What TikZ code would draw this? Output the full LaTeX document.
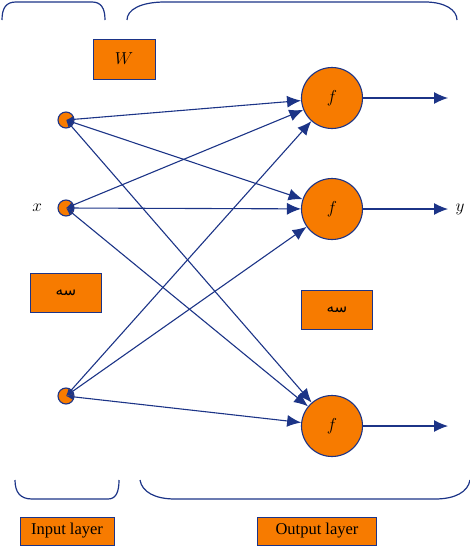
\documentclass[tikz,border=0pt]{standalone}
\usepackage{fontspec}
\setmainfont{Liberation Serif}
\newfontfamily\arabicfont[Script=Arabic]{DejaVu Sans}
\TeXXeTstate=1
\usepackage{tikz}
\usetikzlibrary{arrows.meta,positioning,calc}
\definecolor{netblue}{RGB}{28,52,135}
\definecolor{netorange}{RGB}{247,123,0}
\tikzset{
    link/.style={{Latex[length=7pt,width=6pt]}-{Latex[length=14pt,width=12pt]}, line width=1.1pt, netblue},
    outlink/.style={-{Latex[length=14pt,width=12pt]}, line width=1.1pt, netblue},
    innode/.style={draw=netblue, line width=1.1pt, fill=netorange, circle, minimum size=16pt, inner sep=0pt},
    outnode/.style={draw=netblue, line width=1.1pt, fill=netorange, circle, minimum size=61pt, inner sep=0pt, font=\fontsize{19}{19}\selectfont},
    tag/.style={draw=netblue, line width=1pt, fill=netorange, rectangle, inner sep=0pt},
    brace/.style={line width=1.2pt, netblue}
}

\begin{document}
\begin{tikzpicture}[x=1pt, y=-1pt]
    \useasboundingbox (0,0) rectangle (470,546);
    % layer braces
    \draw[brace] (2,20) .. controls (2,8) and (6,2) .. (16,2) -- (92,2) .. controls (101,2) and (105,8) .. (105,20);
    \draw[brace] (127,20) .. controls (127,10) and (140,2) .. (165,2) -- (425,2) .. controls (445,2) and (457,10) .. (457,20);
    \draw[brace] (15,480) .. controls (15,492) and (20,499) .. (32,499) -- (108,499) .. controls (116,499) and (119,492) .. (119,480);
    \draw[brace] (140,480) .. controls (142,492) and (155,499) .. (175,499) -- (435,499) .. controls (455,499) and (468,492) .. (470,480);

    % input neurons
    \node[innode] (in1) at (66,120) {};
    \node[innode] (in2) at (66,208) {};
    \node[innode] (in3) at (66,396) {};
    \node[left=12pt of in2, font=\fontsize{19}{19}\selectfont] (xlab) {$x$};

    % output neurons
    \node[outnode] (out1) at (332,98) {$f$};
    \node[outnode] (out2) at (332,209) {$f$};
    \node[outnode] (out3) at (332,426) {$f$};

    % weights and dots
    \node[tag, minimum width=62pt, minimum height=40pt, font=\fontsize{19}{19}\selectfont] (wbox) at (124,59) {$W$};
    \node[tag, minimum width=71pt, minimum height=39pt] (dotsin) at (66,293) {\arabicfont\fontsize{15}{15}\selectfont\beginR سه\endR};
    \node[tag, minimum width=71pt, minimum height=39pt] (dotsout) at (337,310) {\arabicfont\fontsize{15}{15}\selectfont\beginR سه\endR};

    % connections
    \foreach \i in {1,2,3}
        \foreach \o in {1,2,3}
            \draw[link] (in\i.center) -- (out\o);

    % outputs
    \coordinate (end1) at (448,98);
    \coordinate (end2) at (448,209);
    \coordinate (end3) at (448,426);
    \foreach \o in {1,2,3}
        \draw[outlink] (out\o) -- (end\o);
    \node[right=4pt of end2, font=\fontsize{19}{19}\selectfont] (ylab) {$y$};

    % layer labels
    \node[tag, minimum width=94pt, minimum height=28pt, font=\fontsize{16.5}{16.5}\selectfont] (inlabel) at (67,531) {Input layer};
    \node[tag, minimum width=119pt, minimum height=28pt, font=\fontsize{16.5}{16.5}\selectfont] (outlabel) at (317,531) {Output layer};
\end{tikzpicture}
\end{document}
